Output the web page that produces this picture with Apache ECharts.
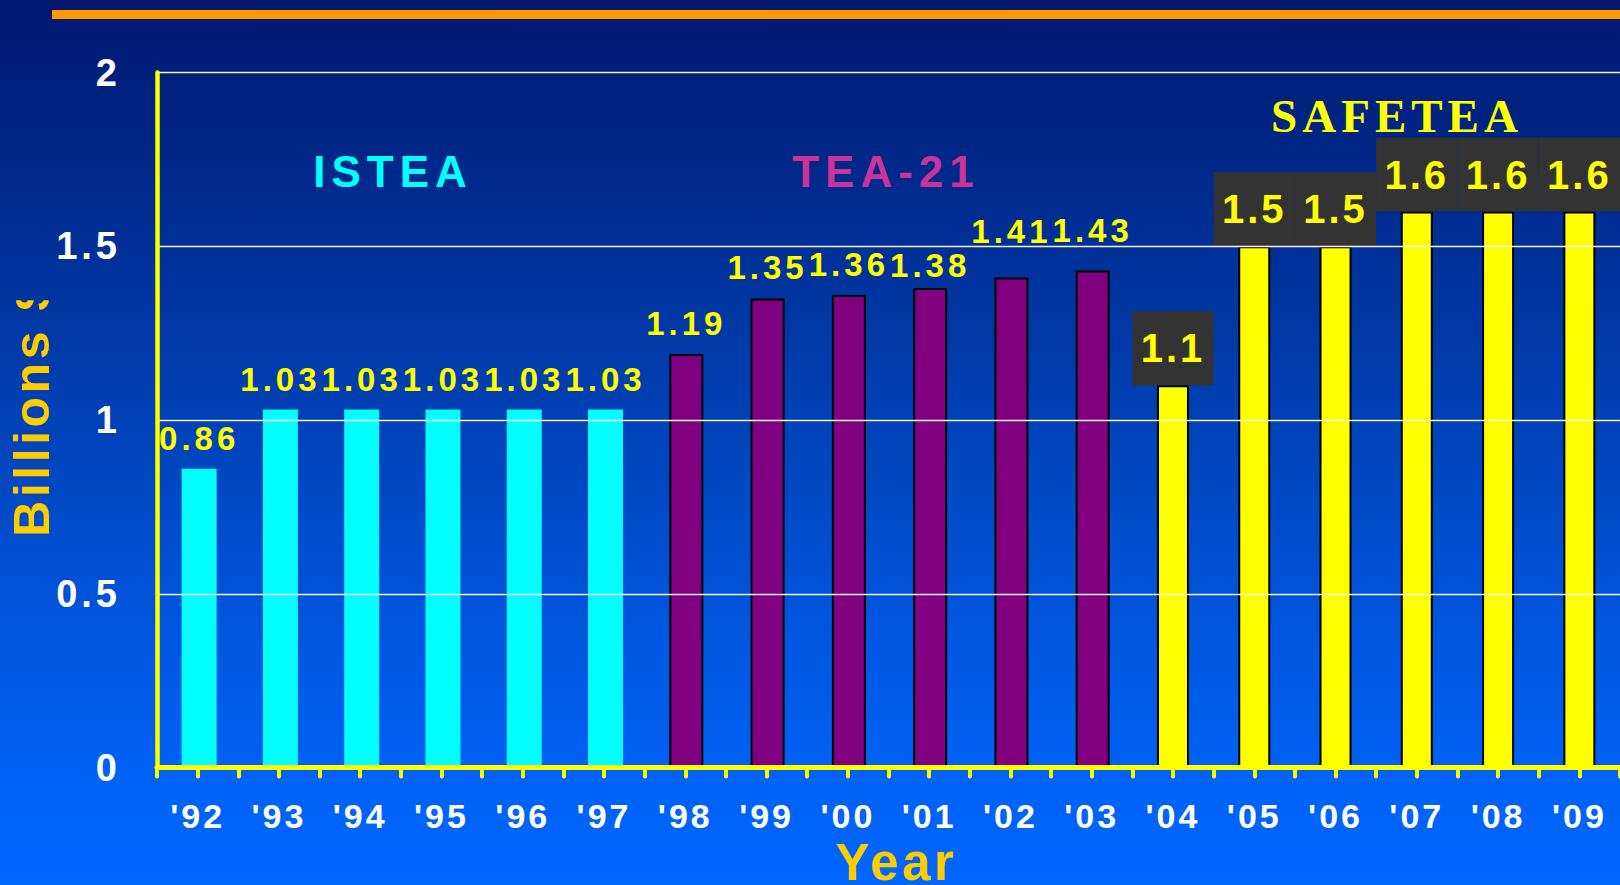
<!DOCTYPE html>
<html>
<head>
<meta charset="utf-8">
<script src="https://cdn.jsdelivr.net/npm/echarts@6/dist/echarts.min.js"></script>
<style>
html, body { margin: 0; padding: 0; width: 1620px; height: 885px; overflow: hidden; background: #0040b0; }
#chart { width: 1620px; height: 885px; }
/* letter tracking of the original slide, keyed by font size */
text[style*="33px"] { letter-spacing: 4px; }
text[style*="34px"] { letter-spacing: 3px; }
text[style*="38px"] { letter-spacing: 4px; }
text[style*="40px"] { letter-spacing: 3px; }
text[style*="44px"] { letter-spacing: 6px; }
text[style*="47px"] { letter-spacing: 5px; }
text[style*="51px"] { letter-spacing: 3.5px; }
/* y-axis title: the slide's text frame cuts off the top of the "$" */
text[style*="50px"] { letter-spacing: 3.5px; clip-path: inset(0 21px 0 0); }
</style>
</head>
<body>
<div id="chart"></div>
<script>
// ---- data ----
const years = ["'92", "'93", "'94", "'95", "'96", "'97", "'98", "'99", "'00",
               "'01", "'02", "'03", "'04", "'05", "'06", "'07", "'08", "'09"];
const isteaValues   = [0.86, 1.03, 1.03, 1.03, 1.03, 1.03];   // '92-'97
const tea21Values   = [1.19, 1.35, 1.36, 1.38, 1.41, 1.43];   // '98-'03
const safeteaValues = [1.1, 1.5, 1.5, 1.6, 1.6, 1.6];         // '04-'09
const yTickLabels   = [0, 0.5, 1, 1.5, 2];
const programNames  = ['ISTEA', 'TEA-21', 'SAFETEA'];

// ---- style helpers (not data) ----
const tea21LabelShift = [0, 0, 0, 8, -16, -10];
const SANS = "'Liberation Sans', Arial, sans-serif";
const SERIF = "'Liberation Serif', 'Times New Roman', serif";

function placeValues(vals, start, shifts) {
  const arr = years.map(() => null);
  vals.forEach((v, i) => {
    arr[start + i] = shifts ? { value: v, label: { offset: [0, shifts[i]] } } : v;
  });
  return arr;
}

const startTea = isteaValues.length;
const startSafe = isteaValues.length + tea21Values.length;

const chart = echarts.init(document.getElementById('chart'), null, { renderer: 'svg' });

const smallLabel = {
  show: true, position: 'top', distance: 14,
  color: '#FFFF00', fontFamily: SANS, fontWeight: 'bold', fontSize: 33
};

const option = {
  animation: false,
  backgroundColor: new echarts.graphic.LinearGradient(0, 0, 0, 1, [
    { offset: 0, color: '#00186e' },
    { offset: 0.35, color: '#0036a2' },
    { offset: 0.5, color: '#0044bb' },
    { offset: 0.7, color: '#0055dd' },
    { offset: 0.88, color: '#0062f6' },
    { offset: 1, color: '#0066ff' }
  ]),
  grid: { left: 157, right: 0, top: 72.5, bottom: 117.5, containLabel: false, outerBoundsMode: 'none' },
  xAxis: [
    {
      type: 'category',
      data: years,
      position: 'bottom',
      z: 5,
      name: 'Year',
      nameLocation: 'middle',
      nameGap: 71,
      nameTextStyle: { color: '#FFCC00', fontFamily: SANS, fontWeight: 'bold', fontSize: 51, lineHeight: 44, padding: [0, 0, 0, 16] },
      axisLine: { show: true, onZero: false, lineStyle: { color: '#FFFF00', width: 5 } },
      axisTick: { show: true, alignWithLabel: false, length: 9, lineStyle: { color: '#FFFF00', width: 4, cap: 'round' } },
      axisLabel: { show: true, margin: 31, color: '#FFFFFF', fontFamily: SANS, fontWeight: 'bold', fontSize: 34, interval: 0 },
      splitLine: { show: false }
    },
    {
      type: 'category',
      data: years,
      position: 'bottom',
      z: 5,
      axisLine: { show: false, onZero: false },
      axisTick: { show: true, alignWithLabel: true, length: 9, lineStyle: { color: '#FFFF00', width: 4, cap: 'round' } },
      axisLabel: { show: false },
      splitLine: { show: false }
    }
  ],
  yAxis: {
    type: 'value',
    min: yTickLabels[0],
    max: yTickLabels[yTickLabels.length - 1],
    interval: yTickLabels[1] - yTickLabels[0],
    z: 5,
    name: 'Billions $',
    nameLocation: 'middle',
    nameRotate: 90,
    nameGap: 96,
    nameTextStyle: { color: '#FFCC00', fontFamily: SANS, fontWeight: 'bold', fontSize: 50, padding: [0, 0, 0, 24] },
    axisLine: { show: true, lineStyle: { color: '#FFFF00', width: 4.5, cap: 'round' } },
    axisTick: { show: false },
    axisLabel: { margin: 36, color: '#FFFFFF', fontFamily: SANS, fontWeight: 'bold', fontSize: 38 },
    splitLine: { show: true, lineStyle: { color: '#F4F4F4', width: 1.4 } }
  },
  series: [
    {
      name: programNames[0], type: 'bar', xAxisIndex: 0,
      data: placeValues(isteaValues, 0),
      barWidth: 35, barGap: '-100%',
      itemStyle: { color: '#00FFFF' },
      label: smallLabel
    },
    {
      name: programNames[1], type: 'bar', xAxisIndex: 0,
      data: placeValues(tea21Values, startTea, tea21LabelShift),
      barWidth: 34, barGap: '-100%',
      itemStyle: { color: '#800080', borderColor: '#000000', borderWidth: 2 },
      label: smallLabel
    },
    {
      name: programNames[2], type: 'bar', xAxisIndex: 0,
      data: placeValues(safeteaValues, startSafe),
      barWidth: 32, barGap: '-100%',
      itemStyle: { color: '#FFFF00', borderColor: '#000000', borderWidth: 2 },
      label: {
        show: true, position: 'top', distance: 0,
        color: '#FFFF00', fontFamily: SANS, fontWeight: 'bold', fontSize: 40,
        backgroundColor: '#333333', width: 81.3, height: 74, lineHeight: 74,
        align: 'center', padding: 0
      }
    }
  ],
  graphic: [
    { type: 'rect', left: 52, top: 10, shape: { width: 1568, height: 9 }, style: { fill: '#FF9900' }, z: 10 },
    { type: 'text', x: 393, y: 171, z: 10,
      style: { text: programNames[0], fill: '#00FFFF', font: 'bold 44px ' + SANS, textAlign: 'center', textVerticalAlign: 'middle' } },
    { type: 'text', x: 886, y: 171, z: 10,
      style: { text: programNames[1], fill: '#CC3399', font: 'bold 44px ' + SANS, textAlign: 'center', textVerticalAlign: 'middle' } },
    { type: 'text', x: 1397, y: 116, z: 10,
      style: { text: programNames[2], fill: '#FFFF00', font: 'bold 47px ' + SERIF, textAlign: 'center', textVerticalAlign: 'middle' } }
  ]
};

chart.setOption(option);
</script>
</body>
</html>
